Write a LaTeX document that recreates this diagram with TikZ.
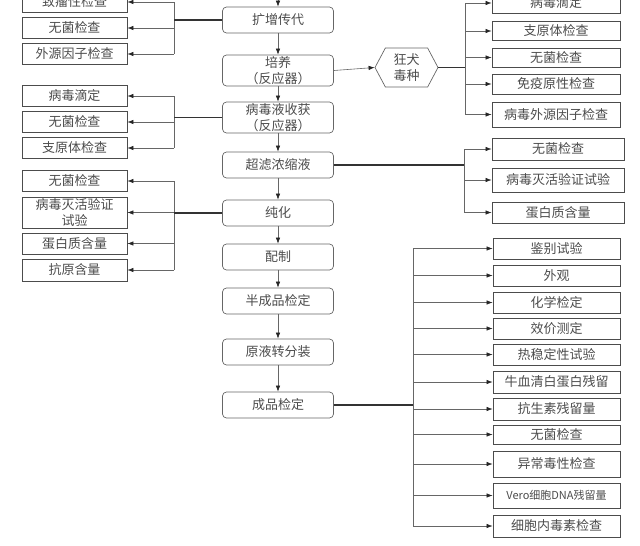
\documentclass[tikz,border=0pt]{standalone}
\usepackage{fontspec}
\setmainfont{Noto Sans CJK SC}
\usetikzlibrary{arrows.meta,shapes.symbols}

\begin{document}
\begin{tikzpicture}[x=1pt,y=-1pt,font=\fontsize{13}{16}\selectfont,
  stage/.style={draw=black!60,line width=.7pt,rounded corners=4pt,
    minimum width=111pt,minimum height=26pt,align=center,inner sep=1pt,
    text=black!70},
  test/.style={draw=black!70,line width=.9pt,minimum height=21pt,
    align=center,inner sep=1pt,text=black!70},
  seedbox/.style={draw=black!60,line width=.7pt,shape=signal,
    signal to=east and west,signal pointer angle=124,minimum width=63pt,
    minimum height=39pt,align=center,inner sep=1pt,text=black!70},
  flow/.style={-{Latex[length=6pt,width=4.5pt,color=black!85]},draw=black!60,
    line width=.6pt},
  bus/.style={draw=black!60,line width=.6pt},
  main/.style={draw=black!80,line width=1.4pt}]
\useasboundingbox (0,0) rectangle (640,546);
\clip (0,0) rectangle (640,546);
% production line
\coordinate (src) at (278,-4);
\node[stage] (amp) at (278,20) {扩增传代};
\node[stage,minimum height=31pt] (cult) at (278,70.5) {培养\\（反应器）};
\node[stage,minimum height=31pt] (harv) at (278,117.5) {病毒液收获\\（反应器）};
\node[stage] (uf) at (278,165) {超滤浓缩液};
\node[stage] (pur) at (278,213) {纯化};
\node[stage] (form) at (278,257) {配制};
\node[stage] (semi) at (278,301) {半成品检定};
\node[stage] (fill) at (278,352) {原液转分装};
\node[stage] (final) at (278,405) {成品检定};
\draw[flow] (src) -- (amp);
\draw[flow] (amp) -- (cult);
\draw[flow] (cult) -- (harv);
\draw[flow] (harv) -- (uf);
\draw[flow] (uf) -- (pur);
\draw[flow] (pur) -- (form);
\draw[flow] (form) -- (semi);
\draw[flow] (semi) -- (fill);
\draw[flow] (fill) -- (final);
% seed virus
\node[seedbox] (seed) at (406.5,67.5) {狂犬\\毒种};
\draw[flow] (cult.east) -- (seed.west);
% left checks
\coordinate (busL) at (174,0);
\foreach \y/\n/\t in {2/la/致瘤性检查,28/lb/无菌检查,54/lc/外源因子检查}{
  \node[test,minimum width=105pt] (\n) at (74.5,\y) {\t};
  \draw[flow] (busL |- \n.east) -- (\n.east);
}
\draw[bus] (busL |- la.east) -- (busL |- lc.east);
\draw[main] (amp.west) -- (busL |- amp.west);
\foreach \y/\n/\t in {96/ld/病毒滴定,122/le/无菌检查,148/lf/支原体检查}{
  \node[test,minimum width=105pt] (\n) at (74.5,\y) {\t};
  \draw[flow] (busL |- \n.east) -- (\n.east);
}
\draw[bus] (busL |- ld.east) -- (busL |- lf.east);
\draw[main] (harv.west) -- (busL |- harv.west);
\foreach \y/\h/\n/\t in {181/21/lg/无菌检查,212.5/31/lh/病毒灭活验证\\试验,
  243.5/21/li/蛋白质含量,270/22/lj/抗原含量}{
  \node[test,minimum width=105pt,minimum height=\h pt] (\n) at (74.5,\y) {\t};
  \draw[flow] (busL |- \n.east) -- (\n.east);
}
\draw[bus] (busL |- lg.east) -- (busL |- lj.east);
\draw[main] (pur.west) -- (busL |- pur.west);
% right checks
\coordinate (busR) at (465,0);
\foreach \y/\h/\n/\t in {3/20/ra/病毒滴定,31/19/rb/支原体检查,57.5/19/rc/无菌检查,
  84/20/rd/免疫原性检查,114.5/25/re/病毒外源因子检查}{
  \node[test,minimum width=128pt,minimum height=\h pt] (\n) at (556,\y) {\t};
  \draw[flow] (busR |- \n.west) -- (\n.west);
}
\draw[bus] (busR |- ra.west) -- (busR |- re.west);
\draw[main] (seed.east) -- (busR |- seed.east);
\coordinate (busU) at (464,0);
\foreach \y/\h/\n/\t in {149/22/rf/无菌检查,180/24/rg/病毒灭活验证试验,
  212.5/21/rh/蛋白质含量}{
  \node[test,minimum width=132pt,minimum height=\h pt] (\n) at (558,\y) {\t};
  \draw[flow] (busU |- \n.west) -- (\n.west);
}
\draw[bus] (busU |- rf.west) -- (busU |- rh.west);
\draw[main] (uf.east) -- (busU |- uf.east);
% final product checks
\coordinate (busF) at (413,0);
\foreach \y/\h/\n/\t in {248.5/21/fa/鉴别试验,275.5/21/fb/外观,302.5/21/fc/化学检定,
  328.5/21/fd/效价测定,354.5/21/fe/热稳定性试验,382/22/ff/牛血清白蛋白残留,
  409/22/fg/抗生素残留量,434.5/19/fh/无菌检查,464/26/fi/异常毒性检查,
  495.5/25/fj/{\fontsize{11}{13}\selectfont Vero细胞DNA残留量},526/22/fk/细胞内毒素检查}{
  \node[test,minimum width=127pt,minimum height=\h pt] (\n) at (556.5,\y) {\t};
  \draw[flow] (busF |- \n.west) -- (\n.west);
}
\draw[bus] (busF |- fa.west) -- (busF |- fk.west);
\draw[main] (final.east) -- (busF |- final.east);
\end{tikzpicture}
\end{document}
